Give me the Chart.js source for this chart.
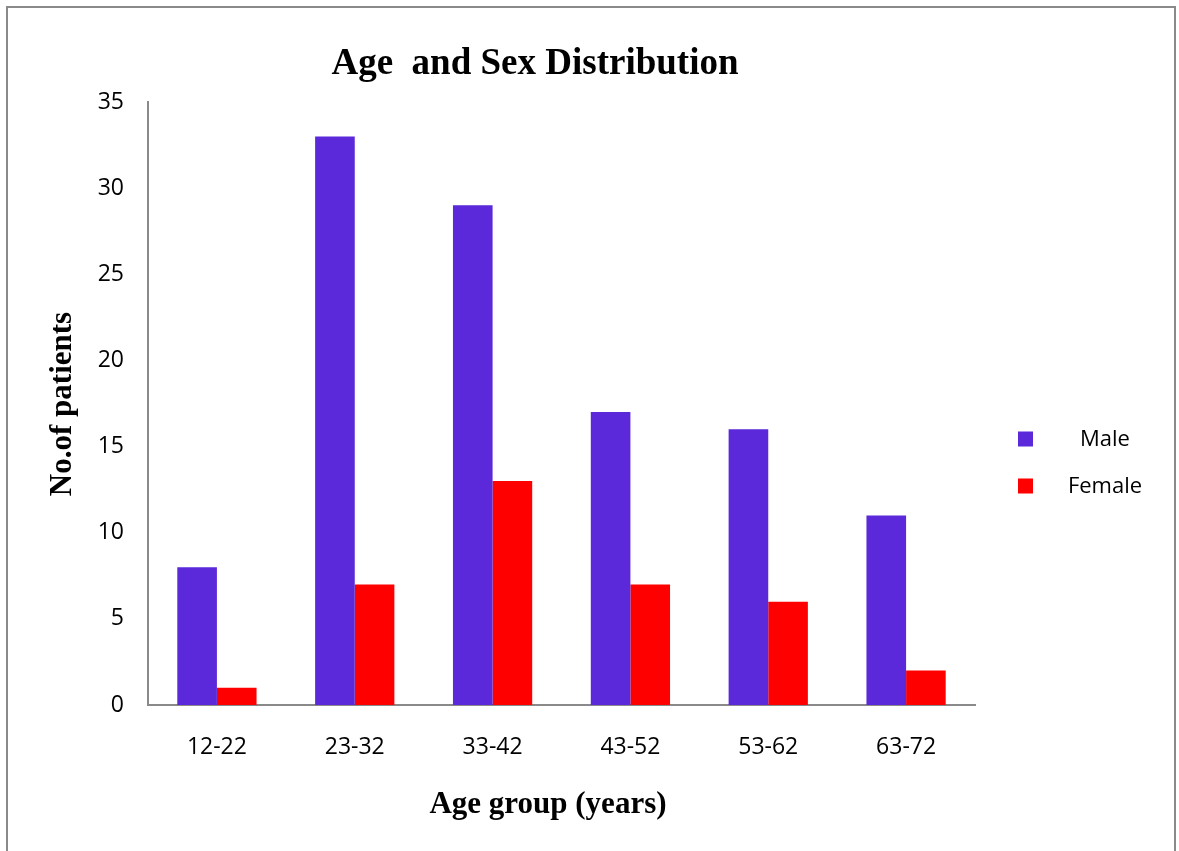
<!DOCTYPE html>
<html>
<head>
<meta charset="utf-8">
<script src="https://cdn.jsdelivr.net/npm/chart.js@4.4.1/dist/chart.umd.min.js"></script>
<style>
  html, body { margin: 0; padding: 0; background: #fff; overflow: hidden; }
  #wrap { position: relative; width: 1179px; height: 851px; overflow: hidden; }
  #frame { position: absolute; left: 6px; top: 6px; width: 1166px; height: 900px; border: 2px solid #8a8a8a; box-sizing: content-box; pointer-events: none; }
  canvas { position: absolute; left: 0; top: 0; }
</style>
</head>
<body>
<div id="wrap">
  <canvas id="c" width="1179" height="851"></canvas>
  <div id="frame"></div>
</div>
<script>
const categories = ['12-22', '23-32', '33-42', '43-52', '53-62', '63-72'];
const maleValues = [8, 33, 29, 17, 16, 11];
const femaleValues = [1, 7, 13, 7, 6, 2];
const seriesNames = ['Male', 'Female'];
const yTicks = [0, 5, 10, 15, 20, 25, 30, 35];
const chartTitle = 'Age  and Sex Distribution';
const xTitle = 'Age group (years)';
const yTitle = 'No.of patients';

const MALE_COLOR = '#5b29d9';
const FEMALE_COLOR = '#ff0000';
const TICK_FONT = { family: "'Open Sans', sans-serif", size: 23 };
const SERIF_BOLD = "bold {s}px 'Liberation Serif', 'Times New Roman', serif";

const textPlugin = {
  id: 'texts',
  afterDraw(chart) {
    const ctx = chart.ctx;
    ctx.save();
    ctx.fillStyle = '#000';
    ctx.textBaseline = 'alphabetic';
    // main title
    ctx.font = SERIF_BOLD.replace('{s}', 37);
    ctx.textAlign = 'center';
    ctx.fillText(chartTitle, 535, 74);
    // x axis title
    ctx.font = SERIF_BOLD.replace('{s}', 31);
    ctx.fillText(xTitle, 548, 813);
    // y axis title
    ctx.save();
    ctx.translate(71, 404);
    ctx.rotate(-Math.PI / 2);
    ctx.fillText(yTitle, 0, 0);
    ctx.restore();
    // legend
    ctx.font = "22px 'Open Sans', sans-serif";
    const ds = chart.data.datasets;
    const rows = [439, 486];
    ds.forEach((d, i) => {
      ctx.fillStyle = d.backgroundColor;
      ctx.fillRect(1018, rows[i] - 7.5, 15, 15);
      ctx.fillStyle = '#000';
      ctx.textAlign = 'center';
      ctx.fillText(d.label, 1105, rows[i] + 7);
    });
    ctx.restore();
  }
};

new Chart(document.getElementById('c'), {
  type: 'bar',
  data: {
    labels: categories,
    datasets: [
      { label: seriesNames[0], data: maleValues, backgroundColor: MALE_COLOR, borderWidth: 0 },
      { label: seriesNames[1], data: femaleValues, backgroundColor: FEMALE_COLOR, borderWidth: 0 }
    ]
  },
  options: {
    responsive: false,
    animation: false,
    devicePixelRatio: 1,
    layout: { padding: { left: 0, top: 102, right: 204, bottom: 0 } },
    plugins: {
      legend: { display: false },
      title: { display: false },
      tooltip: { enabled: false }
    },
    datasets: { bar: { categoryPercentage: 0.575, barPercentage: 1.0 } },
    scales: {
      x: {
        grid: { display: false, drawTicks: false },
        border: { display: true, color: '#8a8a8a', width: 2 },
        ticks: { color: '#000', font: TICK_FONT, padding: 29, maxRotation: 0 },
        afterFit(s) { s.height = 146; }
      },
      y: {
        min: 0, max: 35,
        grid: { display: false, drawTicks: false },
        border: { display: true, color: '#8a8a8a', width: 2 },
        afterBuildTicks(s) { s.ticks = yTicks.map(v => ({ value: v })); },
        ticks: { color: '#000', font: TICK_FONT, padding: 24 },
        afterFit(s) { s.width = 148; }
      }
    }
  },
  plugins: [textPlugin]
});
</script>
</body>
</html>
